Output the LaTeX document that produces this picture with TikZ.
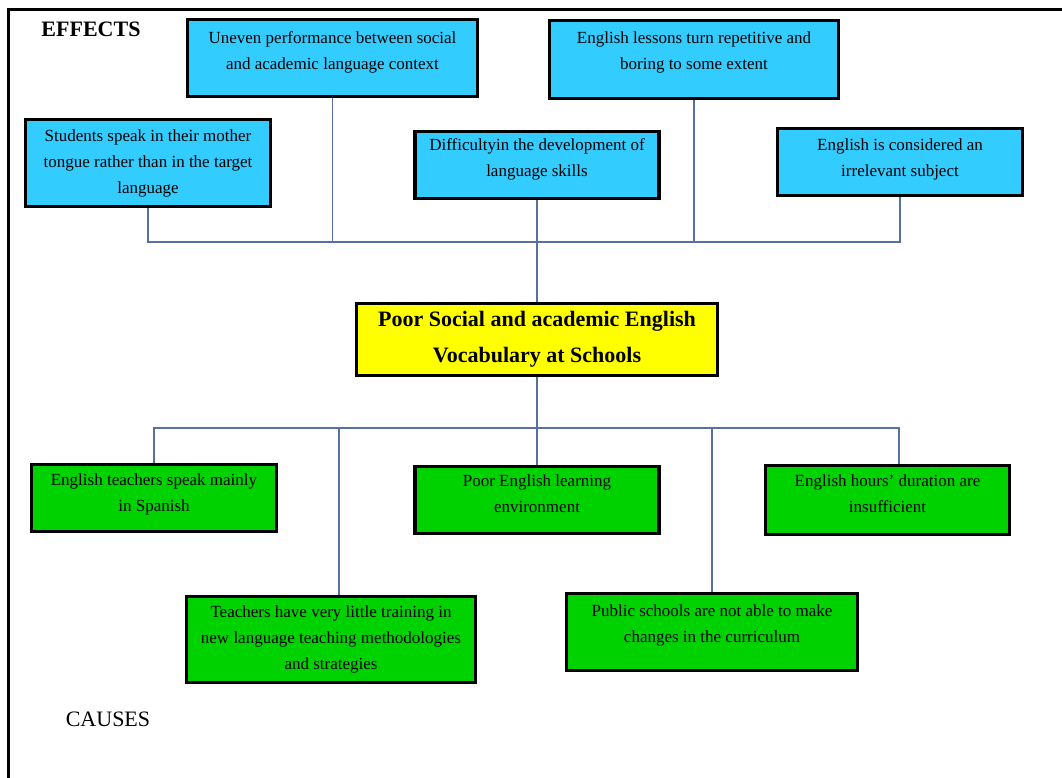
\documentclass[tikz,border=0pt]{standalone}
\usepackage{fontspec}
\setmainfont{Liberation Serif}
\usetikzlibrary{positioning}

\definecolor{effectblue}{RGB}{51,204,255}
\definecolor{causegreen}{RGB}{0,210,0}
\definecolor{coreyellow}{RGB}{255,255,0}
\definecolor{linkblue}{RGB}{88,112,160}

\begin{document}
\begin{tikzpicture}[
    x=1pt, y=-1pt,
    box/.style={rectangle, draw=black, line width=3.5pt, align=center, inner sep=4pt, font=\fontsize{17}{26}\selectfont},
    effect/.style={box, fill=effectblue},
    cause/.style={box, fill=causegreen},
    core/.style={box, fill=coreyellow, font=\fontsize{22}{36}\selectfont\bfseries},
    lift/.style={text depth=#1},
    link/.style={draw=linkblue, line width=1.8pt},
    heading/.style={font=\fontsize{22}{26}\selectfont}
]
    \useasboundingbox (0,0) rectangle (1062,778);
    \draw[line width=2.5pt] (8.5,800) |- (1080,9.5);

    \node[heading, font=\fontsize{22}{26}\selectfont\bfseries] (effects) at (91,29) {EFFECTS};
    \node[heading] (causes) at (108,719) {CAUSES};

    % effects
    \node[effect, minimum width=245, minimum height=87] (students) at (148,163) {Students speak in their mother\\ tongue rather than in the target\\ language};
    \node[effect, minimum width=290, minimum height=77, lift=14pt] (uneven) at (332.5,58) {Uneven performance between social\\ and academic language context};
    \node[effect, minimum width=244, minimum height=67, lift=14pt] (difficulty) at (537,165) {Difficultyin the development of\\ language skills};
    \node[effect, minimum width=289, minimum height=78, lift=18pt] (lessons) at (694,59.5) {English lessons turn repetitive and\\ boring to some extent};
    \node[effect, minimum width=245, minimum height=67, lift=9pt] (irrelevant) at (900,162) {English is considered an\\ irrelevant subject};

    % problem
    \node[core, minimum width=361, minimum height=72] (core) at (537,339.5) {Poor Social and academic English\\ Vocabulary at Schools};

    % causes
    \node[cause, minimum width=245, minimum height=67, lift=11pt] (spanish) at (154,498) {English teachers speak mainly\\ in Spanish};
    \node[cause, minimum width=244, minimum height=67, lift=12pt] (environment) at (537,500) {Poor English learning\\ environment};
    \node[cause, minimum width=244, minimum height=69, lift=13pt] (hours) at (887.5,500) {English hours' duration are\\ insufficient};
    \node[cause, minimum width=289, minimum height=86] (training) at (331,639.5) {Teachers have very little training in\\ new language teaching methodologies\\ and strategies};
    \node[cause, minimum width=291, minimum height=77, lift=17pt] (public) at (712,632) {Public schools are not able to make\\ changes in the curriculum};

    \coordinate (effbar) at (537,242);
    \coordinate (causebar) at (537,428);

    \draw[link] (students.south) |- (irrelevant.south |- effbar) -- (irrelevant.south);
    \draw[link] (uneven.south) -- (uneven.south |- effbar);
    \draw[link] (lessons.south) -- (lessons.south |- effbar);
    \draw[link] (difficulty.south) -- (core.north);

    \draw[link] (core.south) -- (environment.north);
    \draw[link] (spanish.north) |- ([xshift=11.5pt]hours.north |- causebar) -- ([xshift=11.5pt]hours.north);
    \draw[link] ([xshift=8pt]training.north) -- ([xshift=8pt]training.north |- causebar);
    \draw[link] (public.north) -- (public.north |- causebar);
\end{tikzpicture}
\end{document}
